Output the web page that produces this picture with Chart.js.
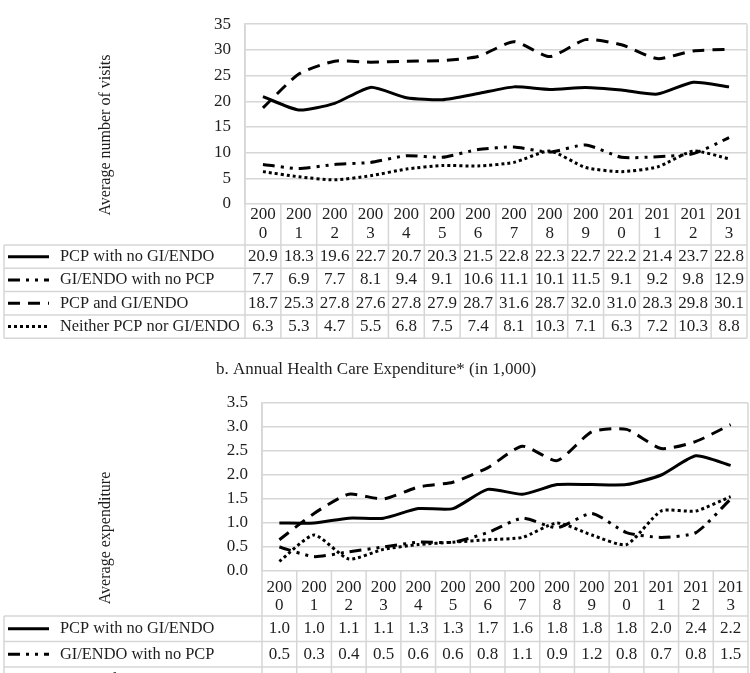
<!DOCTYPE html>
<html>
<head>
<meta charset="utf-8">
<script src="https://cdn.jsdelivr.net/npm/chart.js@4.4.0/dist/chart.umd.min.js"></script>
<style>
body { margin: 0; background: #fff; }
#wrap { position: relative; width: 750px; height: 673px; overflow: hidden; background: #fff; }
canvas { position: absolute; left: 0; }
#visitsChart { top: 0; }
#costChart { top: 350px; }
</style>
</head>
<body>
<div id="wrap">
<canvas id="visitsChart" width="750" height="350"></canvas>
<canvas id="costChart" width="750" height="323"></canvas>
</div>
<script>
var years = ['2000', '2001', '2002', '2003', '2004', '2005', '2006', '2007', '2008', '2009', '2010', '2011', '2012', '2013'];
var seriesNames = ['PCP with no GI/ENDO', 'GI/ENDO with no PCP', 'PCP and GI/ENDO', 'Neither PCP nor GI/ENDO'];

// a. visits
var visitsPcpOnly = [20.9, 18.3, 19.6, 22.7, 20.7, 20.3, 21.5, 22.8, 22.3, 22.7, 22.2, 21.4, 23.7, 22.8];
var visitsGiOnly = [7.7, 6.9, 7.7, 8.1, 9.4, 9.1, 10.6, 11.1, 10.1, 11.5, 9.1, 9.2, 9.8, 12.9];
var visitsBoth = [18.7, 25.3, 27.8, 27.6, 27.8, 27.9, 28.7, 31.6, 28.7, 32.0, 31.0, 28.3, 29.8, 30.1];
var visitsNeither = [6.3, 5.3, 4.7, 5.5, 6.8, 7.5, 7.4, 8.1, 10.3, 7.1, 6.3, 7.2, 10.3, 8.8];

// b. expenditure (last two rows, table is cut off)
var costPcpOnly = [1.0, 1.0, 1.1, 1.1, 1.3, 1.3, 1.7, 1.6, 1.8, 1.8, 1.8, 2.0, 2.4, 2.2];
var costGiOnly = [0.5, 0.3, 0.4, 0.5, 0.6, 0.6, 0.8, 1.1, 0.9, 1.2, 0.8, 0.7, 0.8, 1.5];
var costBoth = [0.65, 1.2, 1.6, 1.5, 1.75, 1.85, 2.15, 2.6, 2.3, 2.9, 2.95, 2.55, 2.7, 3.05];
var costNeither = [0.2, 0.75, 0.25, 0.45, 0.55, 0.6, 0.65, 0.7, 1.0, 0.75, 0.55, 1.25, 1.25, 1.55];

var serif = "'Liberation Serif', 'Times New Roman', serif";
var gridColor = '#d6d6d6';
var textColor = '#1e1e1e';

// solid, long dash dot dot, dash, round dot
var dashes = [[], [12, 6, 3, 6, 3, 6], [12, 8], [3, 3]];

function makeDatasets(values) {
	return values.map(function (v, i) {
		return {
			label: seriesNames[i],
			data: v,
			borderColor: '#000',
			borderWidth: 3,
			borderDash: dashes[i],
			pointRadius: 0,
			tension: 0.2,
			fill: false
		};
	});
}

// excel style data table under the plot + axis title
var dataTable = {
	id: 'dataTable',
	afterDraw: function (chart, args, opts) {
		var ctx = chart.ctx;
		var area = chart.chartArea;
		var xs = chart.scales.x;
		var n = years.length;
		var colW = (area.right - area.left) / n;
		var headTop = area.bottom;
		var headBottom = headTop + opts.headerHeight;
		var rows = chart.data.datasets.length;
		var tableBottom = headBottom + rows * opts.rowHeight;

		ctx.save();
		ctx.strokeStyle = gridColor;
		ctx.lineWidth = 1.5;
		ctx.setLineDash([]);
		ctx.beginPath();
		for (var i = 0; i <= n; i++) {
			var cx = area.left + i * colW;
			ctx.moveTo(cx, (i == 0 || i == n) ? area.top : headTop);
			ctx.lineTo(cx, tableBottom);
		}
		for (var r = 0; r <= rows; r++) {
			var ry = headBottom + r * opts.rowHeight;
			ctx.moveTo(4, ry);
			ctx.lineTo(area.right, ry);
		}
		ctx.moveTo(4, headBottom);
		ctx.lineTo(4, tableBottom);
		ctx.stroke();

		ctx.fillStyle = textColor;
		ctx.font = '17px ' + serif;
		ctx.textAlign = 'center';
		ctx.textBaseline = 'middle';
		years.forEach(function (y, i) {
			var px = xs.getPixelForValue(i);
			ctx.fillText(y.slice(0, 3), px, headTop + opts.headLine1);
			ctx.fillText(y.slice(3), px, headTop + opts.headLine2);
		});

		chart.data.datasets.forEach(function (ds, r) {
			var cy = headBottom + (r + 0.5) * opts.rowHeight;
			ctx.textAlign = 'center';
			ctx.font = '17px ' + serif;
			ds.data.forEach(function (v, i) {
				ctx.fillText(v.toFixed(1), xs.getPixelForValue(i), cy);
			});
			ctx.save();
			ctx.strokeStyle = ds.borderColor;
			ctx.lineWidth = ds.borderWidth;
			ctx.setLineDash(ds.borderDash);
			ctx.beginPath();
			ctx.moveTo(8, cy);
			ctx.lineTo(49, cy);
			ctx.stroke();
			ctx.restore();
			ctx.textAlign = 'left';
			ctx.font = '16.4px ' + serif;
			ctx.fillText(ds.label, 60, cy);
		});

		ctx.save();
		ctx.translate(opts.yTitleX, opts.yTitleY);
		ctx.rotate(-Math.PI / 2);
		ctx.textAlign = 'center';
		ctx.font = '16px ' + serif;
		ctx.fillText(opts.yTitle, 0, 0);
		ctx.restore();

		if (opts.title) {
			ctx.textAlign = 'center';
			ctx.font = '17px ' + serif;
			ctx.fillText(opts.title, opts.titleX, opts.titleY);
		}
		ctx.restore();
	}
};

function yAxis(max, step, width, decimals) {
	return {
		min: 0,
		max: max,
		ticks: {
			stepSize: step,
			padding: 14,
			color: textColor,
			font: { family: serif, size: 17 },
			callback: function (v) { return v.toFixed(decimals); }
		},
		grid: { color: gridColor, lineWidth: 1.5, drawTicks: false },
		border: { display: true, color: gridColor, width: 1.5 },
		afterFit: function (s) { s.width = width; }
	};
}

var ctx = document.getElementById('visitsChart').getContext('2d');
var visitsChart = new Chart(ctx, {
	type: 'line',
	data: {
		labels: years,
		datasets: makeDatasets([visitsPcpOnly, visitsGiOnly, visitsBoth, visitsNeither])
	},
	options: {
		responsive: false,
		animation: false,
		layout: { padding: { top: 22, bottom: 146, left: 0, right: 3 } },
		scales: {
			x: { display: false, offset: true },
			y: yAxis(35, 5, 245, 0)
		},
		plugins: {
			legend: { display: false },
			tooltip: { enabled: false },
			dataTable: {
				headerHeight: 41, headLine1: 11, headLine2: 30, rowHeight: 23.3,
				yTitle: 'Average number of visits', yTitleX: 106, yTitleY: 135
			}
		}
	},
	plugins: [dataTable]
});

var ctx2 = document.getElementById('costChart').getContext('2d');
var costChart = new Chart(ctx2, {
	type: 'line',
	data: {
		labels: years,
		datasets: makeDatasets([costPcpOnly, costGiOnly, costBoth, costNeither])
	},
	options: {
		responsive: false,
		animation: false,
		layout: { padding: { top: 53, bottom: 102, left: 0, right: 2 } },
		scales: {
			x: { display: false, offset: true },
			y: yAxis(3.5, 0.5, 262, 1)
		},
		plugins: {
			legend: { display: false },
			tooltip: { enabled: false },
			dataTable: {
				headerHeight: 45, headLine1: 17, headLine2: 35, rowHeight: 25.5,
				yTitle: 'Average expenditure', yTitleX: 106, yTitleY: 188,
				title: 'b. Annual Health Care Expenditure* (in 1,000)', titleX: 376, titleY: 20
			}
		}
	},
	plugins: [dataTable]
});
</script>
</body>
</html>
